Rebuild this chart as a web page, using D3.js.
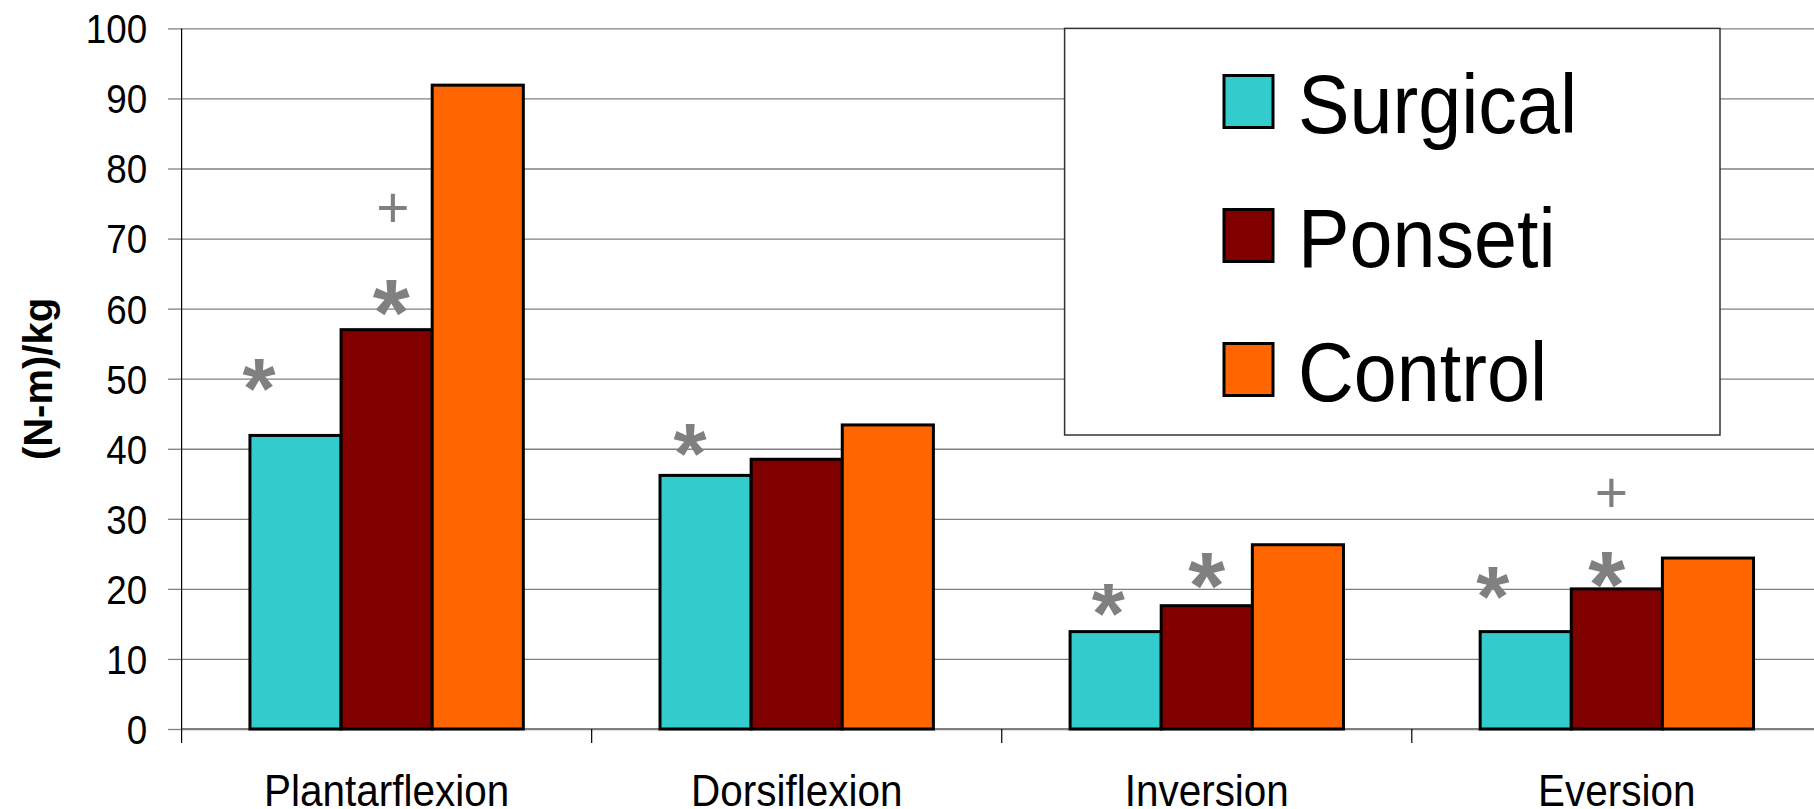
<!DOCTYPE html>
<html><head><meta charset="utf-8">
<script src="https://cdn.jsdelivr.net/npm/d3@7"></script>
<style>html,body{margin:0;padding:0;background:#fff;overflow:hidden}</style>
</head><body><svg id="c" width="1814" height="809"></svg>
<script>
// ---- data ----
const categories = ["Plantarflexion", "Dorsiflexion", "Inversion", "Eversion"];
const seriesNames = ["Surgical", "Ponseti", "Control"];
const surgical = [41.9, 36.2, 13.9, 13.9];
const ponseti  = [57.0, 38.5, 17.6, 20.0];
const control  = [91.9, 43.4, 26.3, 24.4];
const yTicks = [0, 10, 20, 30, 40, 50, 60, 70, 80, 90, 100];
const yTitle = "(N-m)/kg";
// significance marks: category, series, symbol, level (data units), offset (in bar widths)
const annCategory = ["Plantarflexion", "Plantarflexion", "Plantarflexion", "Dorsiflexion", "Inversion", "Inversion", "Eversion", "Eversion", "Eversion"];
const annSeries   = ["Surgical", "Ponseti", "Ponseti", "Surgical", "Surgical", "Ponseti", "Surgical", "Ponseti", "Ponseti"];
const annSymbol   = ["*", "*", "+", "*", "*", "*", "*", "*", "+"];
const annLevel    = [51.1, 62.2, 74.6, 41.8, 18.9, 23.3, 21.3, 23.4, 33.9];
const annOffset   = [-0.40, 0.05, 0.07, -0.17, -0.08, 0.0, -0.36, -0.11, -0.06];

// ---- layout ----
const W = 1814, H = 809;
const pLeft = 181.6, pTop = 28.4, pBottom = 729, step = 410.07;
const plotRight = pLeft + categories.length * step;
const colors = {Surgical: "#33CCCC", Ponseti: "#800000", Control: "#FF6600"};
const seriesValues = {Surgical: surgical, Ponseti: ponseti, Control: control};
const FONT = "Arial, 'Liberation Sans', Helvetica, sans-serif";
const SX = 0.92;

const svg = d3.select("#c");
svg.append("rect").attr("width", W).attr("height", H).attr("fill", "#fff");

const x0 = d3.scaleBand().domain(categories).range([pLeft, plotRight]).paddingInner(1/3).paddingOuter(1/6);
const x1 = d3.scaleBand().domain(seriesNames).range([0, x0.bandwidth()]);
const y = d3.scaleLinear().domain([0, 100]).range([pBottom, pTop]);

// gridlines
const grid = svg.append("g").attr("transform", `translate(${pLeft},0)`)
  .call(d3.axisLeft(y).tickValues(yTicks).tickSize(-(plotRight - pLeft)).tickFormat(""));
grid.select(".domain").remove();
grid.selectAll("line").attr("stroke", "#808080").attr("stroke-width", 1.3);

// y axis ticks + labels
const yAx = svg.append("g").attr("transform", `translate(${pLeft},0)`)
  .call(d3.axisLeft(y).tickValues(yTicks).tickSize(13.5).tickPadding(21));
yAx.select(".domain").remove();
yAx.selectAll("line").attr("stroke", "#808080").attr("stroke-width", 1.3);
yAx.selectAll("text")
  .attr("font-family", FONT).attr("font-size", 40).attr("fill", "#000")
  .attr("text-anchor", "end").attr("dy", "0.36em")
  .attr("transform", function() { const xx = +d3.select(this).attr("x"); return `translate(${xx},0) scale(${SX},1)`; })
  .attr("x", 0);

// legend box (drawn over gridlines)
const lg = svg.append("g");
lg.append("rect").attr("x", 1064.6).attr("y", pTop).attr("width", 655.4).attr("height", 406.6)
  .attr("fill", "#fff").attr("stroke", "#333").attr("stroke-width", 1.5);
seriesNames.forEach((s, i) => {
  const cy = 101.5 + i * 134;
  lg.append("rect").attr("x", 1224).attr("y", cy - 26).attr("width", 49).attr("height", 52)
    .attr("fill", colors[s]).attr("stroke", "#000").attr("stroke-width", 3);
  lg.append("text").attr("transform", `translate(1298,${cy + 31}) scale(${SX},1)`)
    .attr("font-family", FONT).attr("font-size", 84).attr("fill", "#000").text(s);
});

// x axis line at zero
svg.append("line").attr("x1", pLeft).attr("x2", plotRight).attr("y1", pBottom).attr("y2", pBottom)
  .attr("stroke", "#808080").attr("stroke-width", 2);

// bars
const groups = svg.append("g").selectAll("g").data(categories).join("g")
  .attr("transform", d => `translate(${x0(d)},0)`);
groups.selectAll("rect").data((c, ci) => seriesNames.map(s => ({s, v: seriesValues[s][ci]}))).join("rect")
  .attr("x", d => x1(d.s)).attr("width", x1.bandwidth())
  .attr("y", d => y(d.v)).attr("height", d => y(0) - y(d.v))
  .attr("fill", d => colors[d.s]).attr("stroke", "#000").attr("stroke-width", 3);

// y axis line
svg.append("line").attr("x1", pLeft).attr("x2", pLeft).attr("y1", pTop).attr("y2", pBottom + 14)
  .attr("stroke", "#000").attr("stroke-width", 1.2);

// category boundary ticks
d3.range(1, categories.length).forEach(i => {
  const xx = x0.range()[0] + i * x0.step();
  svg.append("line").attr("x1", xx).attr("x2", xx).attr("y1", pBottom).attr("y2", pBottom + 14)
    .attr("stroke", "#000").attr("stroke-width", 1.2);
});

// category labels
const xAx = svg.append("g").attr("transform", `translate(0,${pBottom})`)
  .call(d3.axisBottom(x0).tickSize(0));
xAx.select(".domain").remove();
xAx.selectAll("text")
  .attr("font-family", FONT).attr("font-size", 44).attr("fill", "#000")
  .attr("text-anchor", "middle").attr("dy", 0).attr("y", 0)
  .attr("transform", `translate(0,77) scale(${SX},1)`)
  .attr("x", 0);

// y title
svg.append("text").attr("transform", "translate(38,379) rotate(-90)")
  .attr("text-anchor", "middle").attr("dominant-baseline", "central")
  .attr("font-family", FONT).attr("font-weight", "bold").attr("font-size", 40).attr("fill", "#000")
  .text(yTitle);

// significance marks
annSymbol.forEach((sym, i) => {
  const cx = x0(annCategory[i]) + x1(annSeries[i]) + x1.bandwidth() * (0.5 + annOffset[i]);
  const cy = y(annLevel[i]);
  if (sym === "*") {
    const fs = annSeries[i] === "Ponseti" ? 95 : 85;
    svg.append("text").attr("x", cx).attr("y", cy + 0.548 * fs)
      .attr("text-anchor", "middle").attr("font-family", FONT).attr("font-weight", "bold")
      .attr("font-size", fs).attr("fill", "#808080").text(sym);
  } else {
    const fs = 57;
    svg.append("text").attr("x", cx).attr("y", cy + 0.354 * fs)
      .attr("text-anchor", "middle").attr("font-family", FONT)
      .attr("font-size", fs).attr("fill", "#808080").text(sym);
  }
});
</script></body></html>
